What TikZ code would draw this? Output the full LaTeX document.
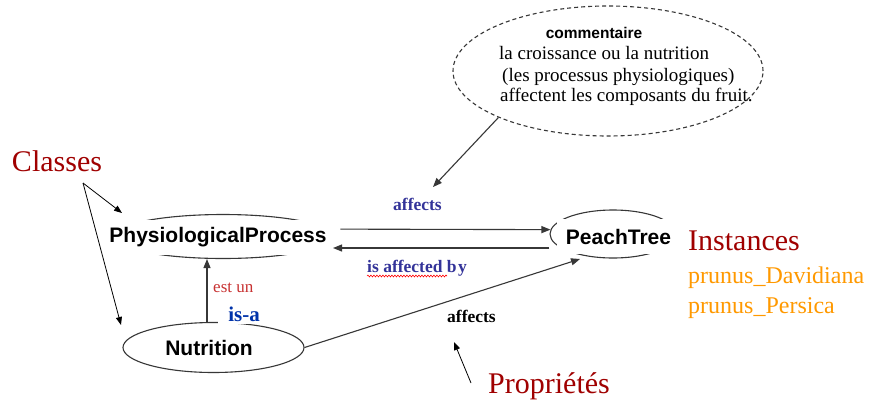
\documentclass[tikz,border=0pt]{standalone}
\usepackage{fontspec}
\setmainfont{Liberation Serif}
\newfontfamily\arial{Liberation Sans}
\usetikzlibrary{arrows.meta,shapes.geometric,decorations.pathmorphing}
\definecolor{darkred}{RGB}{160,0,0}
\definecolor{instorange}{RGB}{255,153,0}
\definecolor{relblue}{RGB}{51,51,153}
\definecolor{isablue}{RGB}{0,51,170}
\definecolor{estred}{RGB}{200,50,50}
\definecolor{linegray}{RGB}{55,55,55}
\tikzset{
  classell/.style={draw=linegray, line width=1.1pt, ellipse, inner sep=0pt},
  classtxt/.style={font=\arial\bfseries\fontsize{21}{25}\selectfont, fill=white, inner xsep=11pt, minimum height=35pt},
  bigred/.style={font=\fontsize{30}{34}\selectfont, text=darkred, inner sep=0pt},
  inst/.style={font=\fontsize{24}{28}\selectfont, text=instorange, inner sep=0pt},
  comtxt/.style={font=\fontsize{19}{22}\selectfont, inner sep=0pt},
  rellab/.style={font=\bfseries\fontsize{17.5}{20}\selectfont, inner sep=0pt},
  arr/.style={draw=linegray, line width=1.1pt, -{Triangle[length=9pt,width=7pt]}},
  thinarr/.style={draw=black, line width=0.8pt, -{Triangle[length=8pt,width=6pt]}}
}
\begin{document}
\begin{tikzpicture}[x=1pt,y=-1pt]
\useasboundingbox[fill=white] (0,0) rectangle (888,405);
% comment ellipse
\node[draw=linegray, dashed, dash pattern=on 4pt off 3pt, line width=1.1pt, ellipse, minimum width=310pt, minimum height=130pt, inner sep=0pt] (com) at (608,71) {};
\node[font=\arial\bfseries\fontsize{15.5}{18}\selectfont, anchor=base, inner sep=0pt] (comh) at (594,38) {commentaire};
\node[comtxt, anchor=base west] (com1) at (499,59) {la croissance ou la nutrition};
\node[comtxt, anchor=base west] (com2) at (502,81) {(les processus physiologiques)};
\node[comtxt, anchor=base west] (com3) at (500,101) {affectent les composants du fruit.};
% class ellipses
\node[classell, minimum width=222pt, minimum height=44pt] (pp) at (223,236.5) {};
\node[classell, minimum width=126pt, minimum height=48pt] (pt) at (613,234) {};
\node[classell, minimum width=181pt, minimum height=50pt] (nut) at (213.5,347.5) {};
\node[classtxt, inner xsep=13pt] (ppt) at (218,237.6) {PhysiologicalProcess};
\node[classtxt, inner xsep=9pt] (ptt) at (618.5,236.5) {PeachTree};
\node[font=\arial\bfseries\fontsize{21}{25}\selectfont, inner sep=0pt, anchor=base] (nutt) at (209,355) {Nutrition};
% labels
\node[bigred, anchor=base] (cls) at (57,171) {Classes};
\node[bigred, anchor=base west] (insts) at (688,250) {Instances};
\node[inst, anchor=base west] (i1) at (688,283) {prunus\_Davidiana};
\node[inst, anchor=base west] (i2) at (688,313) {prunus\_Persica};
\node[bigred, anchor=base west] (prop) at (488,393) {Propriétés};
\node[rellab, text=relblue, anchor=base west] (aff1) at (393,210) {affects};
\node[rellab, text=relblue, anchor=base west] (isab) at (367,272) {is affected b\kern1.5pt y};
\draw[red, line width=0.6pt, decorate, decoration={snake, amplitude=0.9pt, segment length=3pt}]
  ([yshift=-4pt]isab.base west) -- ([yshift=-4pt, xshift=80pt]isab.base west);
\node[rellab, anchor=base west] (aff2) at (447,322) {affects};
\node[font=\fontsize{17}{20}\selectfont, text=estred, anchor=base west, inner sep=0pt] (est) at (213,292) {est un};
\node[font=\bfseries\fontsize{21}{24}\selectfont, text=isablue, anchor=base, fill=white, inner xsep=10pt, inner ysep=3pt] (isa) at (244,321) {is-a};
% helper coordinates
\coordinate (vx) at (207,0);
\coordinate (yb) at (0,248);
\coordinate (ptin) at (580,259);
\coordinate (comtip) at (433,187);
\coordinate (clsA) at (83,183);
\coordinate (clsB) at (122,213);
\coordinate (clsC) at (121,325);
\coordinate (propA) at (471,383);
\coordinate (propB) at (454,342);
% connectors
\draw[arr] ([xshift=12pt]pp.4) -- (pt.176);
\draw[arr] (pt.west |- yb) -- (333,248);
\draw[arr] (nut.east) -- (ptin);
\draw[arr] (nut.north -| vx) -- (pp.south -| vx);
\draw[arr] (com.203) -- (comtip);
\draw[thinarr] (clsA) -- (clsB);
\draw[thinarr] (clsA) -- (clsC);
\draw[thinarr] (propA) -- (propB);
\end{tikzpicture}
\end{document}
